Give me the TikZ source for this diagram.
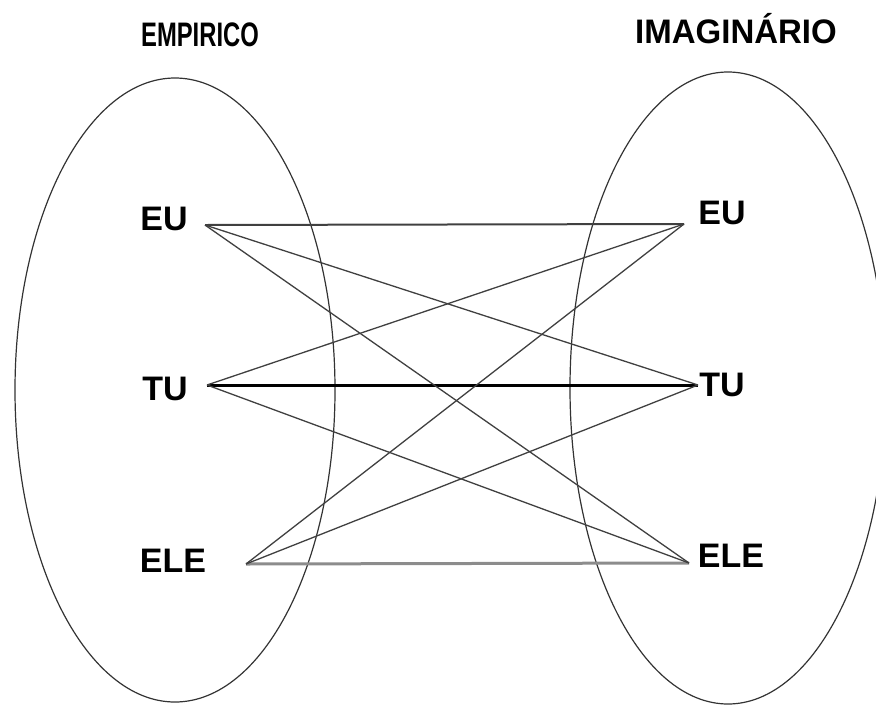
\documentclass[tikz,border=0pt]{standalone}
\usepackage{fontspec}
\setmainfont{Liberation Sans}
\tikzset{
  word/.style={font=\fontsize{34}{40}\selectfont\bfseries},
  set/.style={line width=1.2pt,black!80},
  link/.style={line width=1.3pt,black!75},
}
\begin{document}
\begin{tikzpicture}[x=1pt,y=-1pt]
\useasboundingbox (0,0) rectangle (876,705);
% the two sets
\draw[set] (175,390) ellipse [x radius=160pt,y radius=312pt];
\draw[set] (728,388) ellipse [x radius=158pt,y radius=316pt];
\node[word,anchor=base] (H1) at (200,46) {\scalebox{0.7}[1]{EMPIRICO}};
\node[word,anchor=base] (H2) at (736,43) {\scalebox{0.97}[1]{IMAGINÁRIO}};
% left side
\node[word] (L1) at (164,219) {EU};
\node[word] (L2) at (165,389) {TU};
\node[word] (L3) at (173,561) {ELE};
\coordinate (l1) at (205,225);
\coordinate (l2) at (207,385);
\coordinate (l3) at (246,564);
% right side
\node[word] (R1) at (722,213) {EU};
\node[word] (R2) at (722,385) {TU};
\node[word] (R3) at (731,556) {ELE};
\coordinate (r1) at (684,224);
\coordinate (r2) at (698,385);
\coordinate (r3) at (689,563);
% links
\draw[line width=2pt,black!75] (l1) -- (r1);
\draw[line width=3pt,black] (l2) -- (r2);
\draw[line width=3pt,black!45] (l3) -- (r3);
\draw[link] (l1) -- (r2);
\draw[link] (l1) -- (r3);
\draw[link] (l2) -- (r1);
\draw[link] (l2) -- (r3);
\draw[link] (l3) -- (r1);
\draw[link] (l3) -- (r2);
\end{tikzpicture}
\end{document}
